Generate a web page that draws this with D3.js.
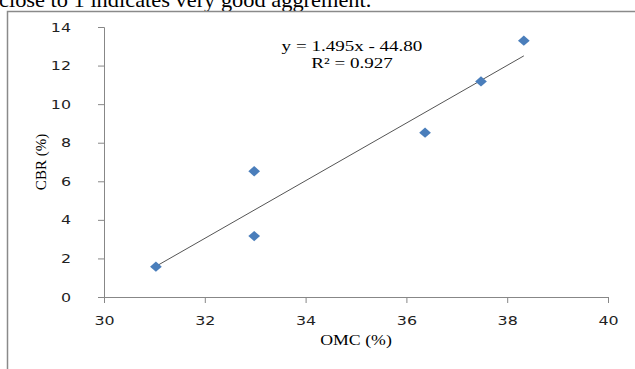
<!DOCTYPE html>
<html>
<head>
<meta charset="utf-8">
<script src="https://cdn.jsdelivr.net/npm/d3@7.9.0/dist/d3.min.js"></script>
<style>
  body { margin: 0; background: #fff; }
  svg { display: block; }
</style>
</head>
<body>
<svg id="chart" width="635" height="369"></svg>
<script>
// data
const omc = [31.03, 32.98, 32.98, 36.37, 37.48, 38.33];
const cbr = [1.57, 6.52, 3.16, 8.52, 11.18, 13.29];
const xTicks = [30, 32, 34, 36, 38, 40];
const yTicks = [0, 2, 4, 6, 8, 10, 12, 14];
const slope = 1.495, intercept = -44.80;
const eqLines = ["y = 1.495x - 44.80", "R² = 0.927"];

const stretch = 1.27; // the source image is squeezed wide

const svg = d3.select("#chart");

// caption text cut off at top of the crop
svg.append("text")
    .attr("transform", "translate(-1,7) scale(1.12,1)")
    .attr("font-family", "Liberation Serif, serif")
    .attr("font-size", 20)
    .attr("fill", "#000")
    .text("close to 1 indicates very good aggrement.");

// chart frame (left + top edges only visible)
svg.append("path")
    .attr("d", "M7.5,369 V11.5 H635")
    .attr("fill", "none")
    .attr("stroke", "#8a8a8a")
    .attr("stroke-width", 1.5);

const x = d3.scaleLinear().domain([30, 40]).range([104, 608]);
const y = d3.scaleLinear().domain([0, 14]).range([297, 27]);

const axisColor = "#878787";

// y axis
const gy = svg.append("g")
    .attr("transform", `translate(${x(30)},0)`)
    .call(d3.axisLeft(y).tickValues(yTicks).tickSize(6));
// x axis
const gx = svg.append("g")
    .attr("transform", `translate(0,${y(0)})`)
    .call(d3.axisBottom(x).tickValues(xTicks).tickSize(6).tickPadding(13));

[gx, gy].forEach(g => {
    g.select(".domain").attr("stroke", axisColor);
    g.selectAll(".tick line").attr("stroke", axisColor);
    g.selectAll(".tick text")
        .attr("fill", "#222")
        .attr("font-family", "DejaVu Sans, sans-serif")
        .attr("font-size", 12.5)
        .attr("transform", `scale(${stretch},1)`);
});
gy.selectAll(".tick text").attr("x", -33 / stretch);

// trendline
svg.append("line")
    .attr("x1", x(d3.min(omc))).attr("y1", y(slope * d3.min(omc) + intercept))
    .attr("x2", x(d3.max(omc))).attr("y2", y(slope * d3.max(omc) + intercept))
    .attr("stroke", "#555")
    .attr("stroke-width", 1);

// points
const pts = omc.map((v, i) => ({ omc: v, cbr: cbr[i] }));
svg.selectAll(".pt")
    .data(pts)
    .join("path")
    .attr("class", "pt")
    .attr("d", d3.symbol().type(d3.symbolDiamond2).size(75))
    .attr("transform", d => `translate(${x(d.omc)},${y(d.cbr)}) scale(1.08,0.95)`)
    .attr("fill", "#4a7ebb");

// equation label
svg.append("g").selectAll("text")
    .data(eqLines)
    .join("text")
    .attr("transform", (d, i) => `translate(352,${51 + i * 17}) scale(${stretch},1)`)
    .attr("text-anchor", "middle")
    .attr("font-family", "Liberation Serif, serif")
    .attr("font-size", 15)
    .attr("fill", "#000")
    .text(d => d);

// axis titles
svg.append("text")
    .attr("transform", "translate(46,162) rotate(-90)")
    .attr("text-anchor", "middle")
    .attr("font-family", "Liberation Serif, serif")
    .attr("font-size", 15)
    .attr("fill", "#000")
    .text("CBR (%)");

svg.append("text")
    .attr("transform", `translate(356,345) scale(${stretch},1)`)
    .attr("text-anchor", "middle")
    .attr("font-family", "Liberation Serif, serif")
    .attr("font-size", 14)
    .attr("fill", "#000")
    .text("OMC (%)");
</script>
</body>
</html>
